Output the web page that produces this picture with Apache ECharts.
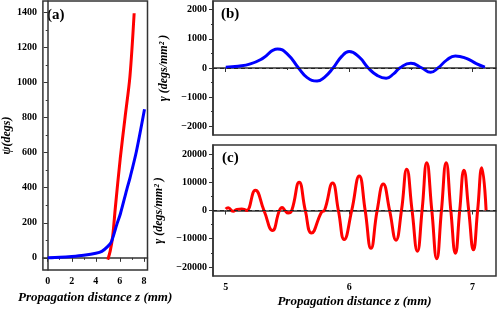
<!DOCTYPE html>
<html><head><meta charset="utf-8">
<script src="https://cdn.jsdelivr.net/npm/echarts@6/dist/echarts.min.js"></script>
<style>html,body{margin:0;padding:0;background:#fff}#c{width:498px;height:309px}</style>
</head><body><div id="c"></div>
<script>
// Panel (a): psi vs z
const aBlueZ   = [0, 1, 2, 3, 4, 4.5, 5, 5.3, 5.77, 6.04, 6.57, 6.84, 7.38, 8.05];
const aBluePsi = [0, 3, 8, 15, 26, 37, 65, 92, 195, 250, 388, 455, 608, 847];
const aRedZ    = [5.0, 5.2, 5.4, 5.63, 6.03, 6.44, 6.84, 7.19];
const aRedPsi  = [-10, 40, 120, 290, 565, 805, 1035, 1395];
const aXTicks = [0, 2, 4, 6, 8];
const aXMinor = [1, 3, 5, 7];
const aYTicks = [0, 200, 400, 600, 800, 1000, 1200, 1400];
const aYMinor = [100, 300, 500, 700, 900, 1100, 1300];

// Panel (b): gamma (blue)
const bZ = [5.0, 5.1, 5.2, 5.3, 5.42, 5.5, 5.59, 5.66, 5.74, 5.8, 5.87, 5.94, 6.0, 6.08, 6.155, 6.23, 6.30, 6.36, 6.41, 6.5, 6.59, 6.66, 6.72, 6.79, 6.86, 6.95, 7.03, 7.1];
const bGamma = [30, 60, 140, 330, 655, 480, 0, -330, -450, -320, 0, 400, 565, 380, 0, -260, -350, -200, 0, 165, 0, -145, 0, 270, 415, 330, 150, 30];
const bYTicks = [-2000, -1000, 0, 1000, 2000];
const bYMinor = [-1500, -500, 500, 1500];

// Panel (c): gamma (red)
const cZ = [5.0, 5.02, 5.06, 5.09, 5.13, 5.16, 5.17, 5.24, 5.31, 5.379, 5.435, 5.457, 5.48, 5.506, 5.535, 5.595, 5.645, 5.695, 5.777, 5.80, 5.866, 5.913, 5.96, 6.021, 6.082, 6.13, 6.177, 6.227, 6.277, 6.328, 6.38, 6.424, 6.467, 6.51, 6.553, 6.591, 6.629, 6.67, 6.71, 6.748, 6.786, 6.824, 6.861, 6.896, 6.93, 6.969, 7.007, 7.041, 7.075, 7.11];
const cGamma = [500, 1000, -300, 400, 500, 200, 0, 7200, 0, -7100, 0, 1100, 0, -900, 0, 10000, 0, -8000, -500, 0, 9700, 0, -10300, 0, 12200, 0, -13400, 0, 9400, 0, -10500, 0, 14600, 0, -14400, 0, 16900, 0, -17100, 0, 16900, 0, -15100, 0, 14300, 0, -13900, 0, 15100, 0];
const cYTicks = [-20000, -10000, 0, 10000, 20000];
const cYMinor = [-15000, -5000, 5000, 15000];

const zTicks = [5, 6, 7];
const zMinor = [5.5, 6.5];

const zip = (a, b) => a.map((v, i) => [v, b[i]]);
const FONT = 'Liberation Serif';
const AX = '#333';
const lbl = {fontFamily: FONT, fontWeight: 'bold', fontSize: 10, color: '#000',
  formatter: v => String(v).replace('-', '\u2212')};

function axMajor(gi, min, max, ticks, showLabel, extra) {
  return Object.assign({
    type: 'value', gridIndex: gi, min: min, max: max,
    axisLine: {show: true, lineStyle: {color: AX, width: 1.5}},
    axisTick: {show: true, length: 4, lineStyle: {color: AX, width: 1}, customValues: ticks},
    axisLabel: Object.assign({show: showLabel, customValues: ticks, margin: 6}, lbl),
    splitLine: {show: false}
  }, extra || {});
}
function axMinor(gi, min, max, ticks, pos) {
  return {
    type: 'value', gridIndex: gi, min: min, max: max, position: pos,
    axisLine: {show: false},
    axisTick: {show: true, length: 2, lineStyle: {color: AX, width: 1}, customValues: ticks},
    axisLabel: {show: false},
    splitLine: {show: false}
  };
}
const nameStyle = {fontFamily: FONT, fontWeight: 'bold', fontStyle: 'italic', fontSize: 12, color: '#000'};
const xNameStyle = {fontFamily: FONT, fontWeight: 'bold', fontStyle: 'italic', fontSize: 13, color: '#000'};

const zeroLine = {silent: true, symbol: 'none', label: {show: false},
  lineStyle: {color: '#222', type: [4, 3], width: 1}, data: [{yAxis: 0}]};

const gridStyle = {show: true, borderColor: AX, borderWidth: 1.5, backgroundColor: 'transparent'};
const TITLE = 'Propagation distance z (mm)';
const GAMMA = '\u03b3 (degs/mm\u00b2 )';

const option = {
  animation: false,
  grid: [
    Object.assign({left: 38, top: 1, width: 109.5, height: 279}, gridStyle),
    Object.assign({left: 213, top: 1, width: 283, height: 134}, gridStyle),
    Object.assign({left: 213, top: 145, width: 283, height: 135}, gridStyle)
  ],
  xAxis: [
    axMajor(0, -0.4, 8.3, aXTicks, true, {position: 'bottom', name: TITLE, nameLocation: 'middle', nameGap: 19, nameTextStyle: xNameStyle}),
    axMinor(0, -0.4, 8.3, aXMinor, 'bottom'),
    axMajor(1, 4.897, 7.19, zTicks, false, {position: 'bottom'}),
    axMinor(1, 4.897, 7.19, zMinor, 'bottom'),
    axMajor(2, 4.897, 7.19, zTicks, true, {position: 'bottom', name: TITLE, nameLocation: 'middle', nameGap: 19, nameTextStyle: xNameStyle}),
    axMinor(2, 4.897, 7.19, zMinor, 'bottom')
  ],
  yAxis: [
    axMajor(0, -70, 1465, aYTicks, true, {position: 'left', name: '\u03c8(degs)', nameLocation: 'middle', nameGap: 27, nameTextStyle: nameStyle}),
    axMinor(0, -70, 1465, aYMinor, 'left'),
    axMajor(1, -2300, 2300, bYTicks, true, {position: 'left', name: GAMMA, nameLocation: 'middle', nameGap: 40, nameTextStyle: nameStyle}),
    axMinor(1, -2300, 2300, bYMinor, 'left'),
    axMajor(2, -23200, 23200, cYTicks, true, {position: 'left', name: GAMMA, nameLocation: 'middle', nameGap: 40, nameTextStyle: nameStyle}),
    axMinor(2, -23200, 23200, cYMinor, 'left')
  ],
  series: [
    {type: 'line', xAxisIndex: 0, yAxisIndex: 0, data: zip(aBlueZ, aBluePsi), smooth: 0.3, showSymbol: false, lineStyle: {color: '#0000ff', width: 3}, z: 3},
    {type: 'line', xAxisIndex: 0, yAxisIndex: 0, data: zip(aRedZ, aRedPsi), smooth: 0.3, showSymbol: false, lineStyle: {color: '#ff0000', width: 3}, z: 2},
    {type: 'line', xAxisIndex: 2, yAxisIndex: 2, data: zip(bZ, bGamma), smooth: 0.5, showSymbol: false, lineStyle: {color: '#0000ff', width: 3}, markLine: zeroLine},
    {type: 'line', xAxisIndex: 4, yAxisIndex: 4, data: zip(cZ, cGamma), smooth: 0.5, showSymbol: false, lineStyle: {color: '#ff0000', width: 3}, markLine: zeroLine}
  ],
  graphic: [
    {type: 'text', left: 47, top: 8, style: {text: '(a)', font: 'bold 15px "Liberation Serif"', fill: '#000'}},
    {type: 'text', left: 221, top: 7, style: {text: '(b)', font: 'bold 15px "Liberation Serif"', fill: '#000'}},
    {type: 'text', left: 222, top: 151, style: {text: '(c)', font: 'bold 15px "Liberation Serif"', fill: '#000'}}
  ]
};
const chart = echarts.init(document.getElementById('c'), null, {renderer: 'canvas'});
chart.setOption(option);
</script></body></html>
